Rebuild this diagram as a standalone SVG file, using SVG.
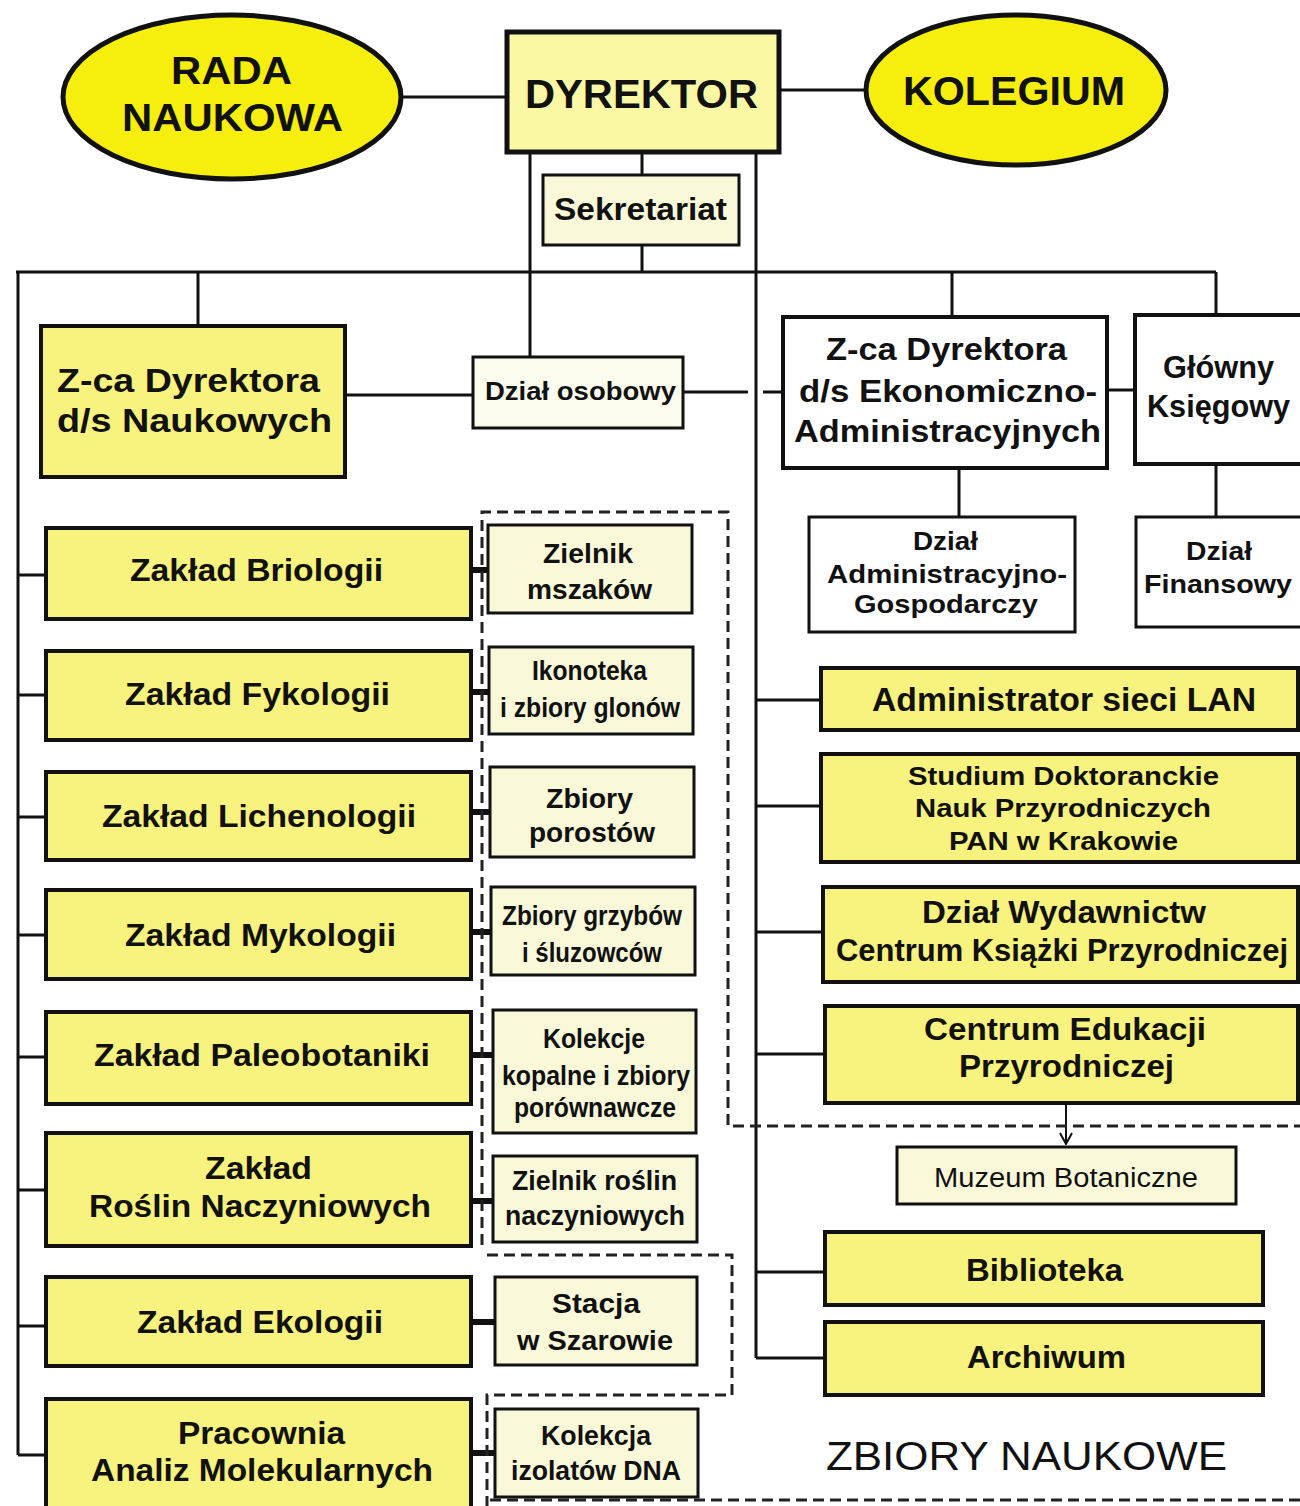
<svg xmlns="http://www.w3.org/2000/svg" width="1300" height="1506" viewBox="0 0 1300 1506">
<defs>
<style>
.ov{fill:#f6ee0c;stroke:#111;stroke-width:5}
.y{fill:#f8f27e;stroke:#111;stroke-width:4}
.yl{fill:#faf8a4;stroke:#111;stroke-width:5}
.c{fill:#f9f9da;stroke:#111;stroke-width:3}
.w{fill:#ffffff;stroke:#111;stroke-width:4}
.ln{stroke:#111;stroke-width:3;fill:none}
.th{stroke:#111;stroke-width:6;fill:none}
.ds{stroke:#222;stroke-width:3;fill:none;stroke-dasharray:11 6}
text{font-family:"Liberation Sans",Arial,sans-serif;font-weight:bold;fill:#111;text-anchor:middle}
.n{font-weight:normal}
</style>
<marker id="arr" viewBox="0 0 14 14" refX="13" refY="7" markerWidth="14" markerHeight="14" markerUnits="userSpaceOnUse" orient="auto">
<path d="M2,1 L13,7 L2,13" fill="none" stroke="#111" stroke-width="2"/>
</marker>
</defs>
<rect width="1300" height="1506" fill="#ffffff"/>

<g id="connectors">
<line class="ln" x1="402" y1="97" x2="507" y2="97"/>
<line class="ln" x1="779" y1="90" x2="866" y2="90"/>
<line class="ln" x1="530" y1="152" x2="530" y2="357"/>
<line class="ln" x1="642" y1="152" x2="642" y2="175"/>
<line class="ln" x1="642" y1="245" x2="642" y2="272"/>
<line class="ln" x1="756" y1="152" x2="756" y2="1358"/>
<line class="ln" x1="16" y1="272" x2="1216" y2="272"/>
<line class="ln" x1="18" y1="272" x2="18" y2="1455"/>
<line class="ln" x1="198" y1="272" x2="198" y2="326"/>
<line class="ln" x1="952" y1="272" x2="952" y2="317"/>
<line class="ln" x1="1216" y1="272" x2="1216" y2="315"/>
<line class="ln" x1="345" y1="395" x2="473" y2="395"/>
<line class="ln" x1="683" y1="392" x2="748" y2="392"/>
<line class="ln" x1="763" y1="392" x2="783" y2="392"/>
<line class="ln" x1="1107" y1="390" x2="1135" y2="390"/>
<line class="ln" x1="959" y1="468" x2="959" y2="517"/>
<line class="ln" x1="1216" y1="464" x2="1216" y2="517"/>
<line class="ln" x1="18" y1="575" x2="46" y2="575"/>
<line class="ln" x1="18" y1="695" x2="46" y2="695"/>
<line class="ln" x1="18" y1="817" x2="46" y2="817"/>
<line class="ln" x1="18" y1="935" x2="46" y2="935"/>
<line class="ln" x1="18" y1="1057" x2="46" y2="1057"/>
<line class="ln" x1="18" y1="1190" x2="46" y2="1190"/>
<line class="ln" x1="18" y1="1326" x2="46" y2="1326"/>
<line class="ln" x1="18" y1="1455" x2="46" y2="1455"/>
<line class="ln" x1="756" y1="700" x2="821" y2="700"/>
<line class="ln" x1="756" y1="806" x2="821" y2="806"/>
<line class="ln" x1="756" y1="932" x2="823" y2="932"/>
<line class="ln" x1="756" y1="1054" x2="825" y2="1054"/>
<line class="ln" x1="756" y1="1272" x2="825" y2="1272"/>
<line class="ln" x1="756" y1="1358" x2="825" y2="1358"/>
<line class="th" x1="471" y1="570" x2="488" y2="570"/>
<line class="th" x1="471" y1="692" x2="489" y2="692"/>
<line class="th" x1="471" y1="812" x2="490" y2="812"/>
<line class="th" x1="471" y1="932" x2="491" y2="932"/>
<line class="th" x1="471" y1="1055" x2="493" y2="1055"/>
<line class="th" x1="471" y1="1201" x2="493" y2="1201"/>
<line class="th" x1="471" y1="1322" x2="495" y2="1322"/>
<line class="th" x1="471" y1="1453" x2="495" y2="1453"/>
<line x1="1066" y1="1103" x2="1066" y2="1144" stroke="#111" stroke-width="2" marker-end="url(#arr)"/>
</g>

<g id="zbiory-boundary">
<path class="ds" d="M482,1245 L482,512 L728,512 L728,1126 L1300,1126"/>
<path class="ds" d="M487,1255 L732,1255 L732,1395 L487,1395 L487,1506"/>
<path class="ds" d="M490,1500 L1300,1500"/>
</g>

<g id="rada"><ellipse class="ov" cx="232" cy="97" rx="169" ry="82"/>
<text x="231.5" y="84" font-size="38" textLength="121" lengthAdjust="spacingAndGlyphs">RADA</text>
<text x="232.5" y="131" font-size="38" textLength="221" lengthAdjust="spacingAndGlyphs">NAUKOWA</text></g>

<g id="dyrektor"><rect class="yl" x="507" y="32" width="272" height="120"/>
<text x="641.5" y="108" font-size="40" textLength="233" lengthAdjust="spacingAndGlyphs">DYREKTOR</text></g>

<g id="kolegium"><ellipse class="ov" cx="1016" cy="90" rx="150" ry="75"/>
<text x="1014" y="105" font-size="40" textLength="222" lengthAdjust="spacingAndGlyphs">KOLEGIUM</text></g>

<g id="sekretariat"><rect class="c" x="543" y="175" width="196" height="70"/>
<text x="640.5" y="220" font-size="31" textLength="173" lengthAdjust="spacingAndGlyphs">Sekretariat</text></g>

<g id="zca-naukowych"><rect class="y" x="41" y="326" width="304" height="151"/>
<text x="188.5" y="392" font-size="34" textLength="263" lengthAdjust="spacingAndGlyphs">Z-ca Dyrektora</text>
<text x="194.5" y="432" font-size="34" textLength="275" lengthAdjust="spacingAndGlyphs">d/s Naukowych</text></g>

<g id="dzial-osobowy"><rect class="c" x="473" y="357" width="210" height="71" style="fill:#fcfcee"/>
<text x="580.5" y="400" font-size="25" textLength="191" lengthAdjust="spacingAndGlyphs">Dział osobowy</text></g>

<g id="zca-ekonomiczno"><rect class="w" x="783" y="317" width="324" height="151"/>
<text x="946.5" y="360" font-size="32" textLength="241" lengthAdjust="spacingAndGlyphs">Z-ca Dyrektora</text>
<text x="948" y="402" font-size="32" textLength="298" lengthAdjust="spacingAndGlyphs">d/s Ekonomiczno-</text>
<text x="947.5" y="442" font-size="32" textLength="307" lengthAdjust="spacingAndGlyphs">Administracyjnych</text></g>

<g id="glowny-ksiegowy"><rect class="w" x="1135" y="315" width="170" height="149"/>
<text x="1218.5" y="378" font-size="32" textLength="111" lengthAdjust="spacingAndGlyphs">Główny</text>
<text x="1218.5" y="417" font-size="32" textLength="143" lengthAdjust="spacingAndGlyphs">Księgowy</text></g>

<g id="dzial-admin"><rect class="w" x="809" y="517" width="266" height="115" style="stroke-width:3"/>
<text x="945.5" y="550" font-size="26" textLength="65" lengthAdjust="spacingAndGlyphs">Dział</text>
<text x="947" y="583" font-size="26" textLength="240" lengthAdjust="spacingAndGlyphs">Administracyjno-</text>
<text x="946" y="613" font-size="26" textLength="184" lengthAdjust="spacingAndGlyphs">Gospodarczy</text></g>

<g id="dzial-finansowy"><rect class="w" x="1136" y="517" width="170" height="110" style="stroke-width:3"/>
<text x="1219" y="560" font-size="26" textLength="66" lengthAdjust="spacingAndGlyphs">Dział</text>
<text x="1218" y="593" font-size="26" textLength="148" lengthAdjust="spacingAndGlyphs">Finansowy</text></g>

<g id="briologii"><rect class="y" x="46" y="528" width="425" height="91"/>
<text x="256.5" y="581" font-size="31" textLength="253" lengthAdjust="spacingAndGlyphs">Zakład Briologii</text></g>
<g id="fykologii"><rect class="y" x="46" y="651" width="425" height="89"/>
<text x="257.5" y="705" font-size="31" textLength="265" lengthAdjust="spacingAndGlyphs">Zakład Fykologii</text></g>
<g id="lichenologii"><rect class="y" x="46" y="772" width="425" height="88"/>
<text x="259" y="827" font-size="31" textLength="314" lengthAdjust="spacingAndGlyphs">Zakład Lichenologii</text></g>
<g id="mykologii"><rect class="y" x="46" y="890" width="425" height="89"/>
<text x="260.5" y="946" font-size="31" textLength="271" lengthAdjust="spacingAndGlyphs">Zakład Mykologii</text></g>
<g id="paleobotaniki"><rect class="y" x="46" y="1012" width="425" height="92"/>
<text x="262" y="1066" font-size="31" textLength="336" lengthAdjust="spacingAndGlyphs">Zakład Paleobotaniki</text></g>
<g id="rosliny"><rect class="y" x="46" y="1133" width="425" height="113"/>
<text x="258.5" y="1179" font-size="31" textLength="107" lengthAdjust="spacingAndGlyphs">Zakład</text>
<text x="260" y="1217" font-size="31" textLength="342" lengthAdjust="spacingAndGlyphs">Roślin Naczyniowych</text></g>
<g id="ekologii"><rect class="y" x="46" y="1277" width="425" height="89"/>
<text x="260" y="1333" font-size="31" textLength="246" lengthAdjust="spacingAndGlyphs">Zakład Ekologii</text></g>
<g id="pracownia"><rect class="y" x="46" y="1399" width="425" height="120"/>
<text x="261.5" y="1444" font-size="31" textLength="167" lengthAdjust="spacingAndGlyphs">Pracownia</text>
<text x="262" y="1481" font-size="31" textLength="342" lengthAdjust="spacingAndGlyphs">Analiz Molekularnych</text></g>

<g id="zielnik-mszakow"><rect class="c" x="488" y="525" width="204" height="88"/>
<text x="588" y="563" font-size="28" textLength="90" lengthAdjust="spacingAndGlyphs">Zielnik</text>
<text x="589.5" y="599" font-size="28" textLength="125" lengthAdjust="spacingAndGlyphs">mszaków</text></g>
<g id="ikonoteka"><rect class="c" x="489" y="647" width="204" height="87"/>
<text x="589.5" y="680" font-size="28" textLength="115" lengthAdjust="spacingAndGlyphs">Ikonoteka</text>
<text x="590" y="717" font-size="28" textLength="180" lengthAdjust="spacingAndGlyphs">i zbiory glonów</text></g>
<g id="zbiory-porostow"><rect class="c" x="490" y="767" width="204" height="90"/>
<text x="589.5" y="808" font-size="28" textLength="87" lengthAdjust="spacingAndGlyphs">Zbiory</text>
<text x="592" y="842" font-size="28" textLength="126" lengthAdjust="spacingAndGlyphs">porostów</text></g>
<g id="zbiory-grzybow"><rect class="c" x="491" y="887" width="204" height="88"/>
<text x="592" y="925" font-size="28" textLength="180" lengthAdjust="spacingAndGlyphs">Zbiory grzybów</text>
<text x="592" y="962" font-size="28" textLength="140" lengthAdjust="spacingAndGlyphs">i śluzowców</text></g>
<g id="kolekcje-kopalne"><rect class="c" x="493" y="1010" width="203" height="123"/>
<text x="594" y="1048" font-size="28" textLength="102" lengthAdjust="spacingAndGlyphs">Kolekcje</text>
<text x="596" y="1085" font-size="28" textLength="188" lengthAdjust="spacingAndGlyphs">kopalne i zbiory</text>
<text x="595" y="1117" font-size="28" textLength="162" lengthAdjust="spacingAndGlyphs">porównawcze</text></g>
<g id="zielnik-roslin"><rect class="c" x="493" y="1156" width="204" height="86"/>
<text x="594.5" y="1190" font-size="28" textLength="165" lengthAdjust="spacingAndGlyphs">Zielnik roślin</text>
<text x="595" y="1225" font-size="28" textLength="180" lengthAdjust="spacingAndGlyphs">naczyniowych</text></g>
<g id="stacja"><rect class="c" x="495" y="1277" width="202" height="88"/>
<text x="596" y="1313" font-size="28" textLength="88" lengthAdjust="spacingAndGlyphs">Stacja</text>
<text x="595" y="1350" font-size="28" textLength="156" lengthAdjust="spacingAndGlyphs">w Szarowie</text></g>
<g id="kolekcja-dna"><rect class="c" x="495" y="1409" width="203" height="88"/>
<text x="596" y="1445" font-size="28" textLength="110" lengthAdjust="spacingAndGlyphs">Kolekcja</text>
<text x="596" y="1480" font-size="28" textLength="170" lengthAdjust="spacingAndGlyphs">izolatów DNA</text></g>

<g id="admin-lan"><rect class="y" x="821" y="668" width="477" height="62"/>
<text x="1064" y="711" font-size="33" textLength="384" lengthAdjust="spacingAndGlyphs">Administrator sieci LAN</text></g>
<g id="studium"><rect class="y" x="821" y="754" width="477" height="108"/>
<text x="1063.5" y="785" font-size="26" textLength="311" lengthAdjust="spacingAndGlyphs">Studium Doktoranckie</text>
<text x="1063" y="817" font-size="26" textLength="296" lengthAdjust="spacingAndGlyphs">Nauk Przyrodniczych</text>
<text x="1063.5" y="850" font-size="26" textLength="229" lengthAdjust="spacingAndGlyphs">PAN w Krakowie</text></g>
<g id="wydawnictwa"><rect class="y" x="823" y="887" width="475" height="95"/>
<text x="1064" y="923" font-size="31" textLength="284" lengthAdjust="spacingAndGlyphs">Dział Wydawnictw</text>
<text x="1062" y="961" font-size="31" textLength="452" lengthAdjust="spacingAndGlyphs">Centrum Książki Przyrodniczej</text></g>
<g id="centrum-edukacji"><rect class="y" x="825" y="1006" width="473" height="97"/>
<text x="1065" y="1040" font-size="31" textLength="282" lengthAdjust="spacingAndGlyphs">Centrum Edukacji</text>
<text x="1066.5" y="1077" font-size="31" textLength="215" lengthAdjust="spacingAndGlyphs">Przyrodniczej</text></g>
<g id="muzeum"><rect class="c" x="897" y="1147" width="339" height="57"/>
<text class="n" x="1066" y="1187" font-size="27" textLength="264" lengthAdjust="spacingAndGlyphs">Muzeum Botaniczne</text></g>
<g id="biblioteka"><rect class="y" x="825" y="1232" width="438" height="73"/>
<text x="1044.5" y="1281" font-size="31" textLength="157" lengthAdjust="spacingAndGlyphs">Biblioteka</text></g>
<g id="archiwum"><rect class="y" x="825" y="1322" width="438" height="73"/>
<text x="1046.5" y="1368" font-size="31" textLength="159" lengthAdjust="spacingAndGlyphs">Archiwum</text></g>

<g id="zbiory-label"><text class="n" x="1026.5" y="1470" font-size="40" textLength="401" lengthAdjust="spacingAndGlyphs">ZBIORY NAUKOWE</text></g>
</svg>
